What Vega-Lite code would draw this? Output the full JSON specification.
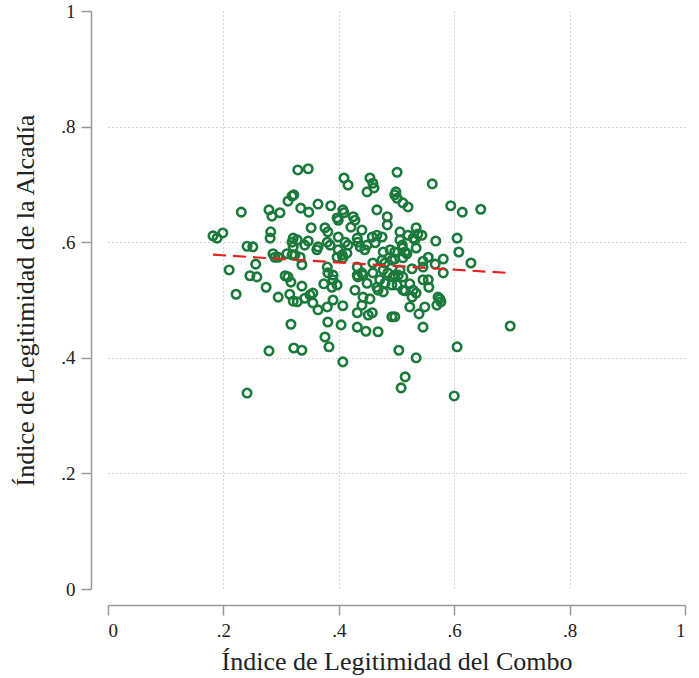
{
  "$schema": "https://vega.github.io/schema/vega-lite/v6.json",
  "width": 577,
  "height": 578,
  "autosize": {"type": "none"},
  "padding": {"left": 108, "top": 11, "right": 14, "bottom": 89},
  "background": "white",
  "config": {
    "view": {"stroke": null},
    "font": "Liberation Serif",
    "axis": {
      "labelFont": "Liberation Serif",
      "titleFont": "Liberation Serif",
      "labelFontSize": 19,
      "titleFontSize": 26,
      "titleFontWeight": "normal",
      "labelColor": "#222222",
      "titleColor": "#222222",
      "domainColor": "#999999",
      "domainWidth": 1.5,
      "tickColor": "#999999",
      "tickWidth": 1.5,
      "tickSize": 10,
      "gridColor": "#aaaaaa",
      "gridDash": [1, 3],
      "gridWidth": 1
    }
  },
  "data": {
    "values": [
      {"x":0.329,"y":0.725},{"x":0.322,"y":0.682},{"x":0.319,"y":0.680},{"x":0.312,"y":0.671},{"x":0.334,"y":0.659},
      {"x":0.231,"y":0.652},{"x":0.279,"y":0.656},{"x":0.284,"y":0.645},{"x":0.298,"y":0.651},{"x":0.182,"y":0.611},
      {"x":0.189,"y":0.607},{"x":0.199,"y":0.616},{"x":0.282,"y":0.618},{"x":0.281,"y":0.607},{"x":0.321,"y":0.607},
      {"x":0.319,"y":0.600},{"x":0.241,"y":0.593},{"x":0.251,"y":0.592},{"x":0.321,"y":0.592},{"x":0.341,"y":0.595},
      {"x":0.286,"y":0.580},{"x":0.289,"y":0.574},{"x":0.295,"y":0.574},{"x":0.310,"y":0.580},{"x":0.319,"y":0.578},
      {"x":0.333,"y":0.574},{"x":0.210,"y":0.552},{"x":0.256,"y":0.562},{"x":0.246,"y":0.542},{"x":0.258,"y":0.540},
      {"x":0.307,"y":0.542},{"x":0.312,"y":0.540},{"x":0.336,"y":0.561},{"x":0.347,"y":0.727},{"x":0.409,"y":0.711},
      {"x":0.416,"y":0.699},{"x":0.454,"y":0.711},{"x":0.459,"y":0.702},{"x":0.461,"y":0.694},{"x":0.449,"y":0.687},
      {"x":0.501,"y":0.721},{"x":0.499,"y":0.687},{"x":0.497,"y":0.682},{"x":0.501,"y":0.676},{"x":0.364,"y":0.666},
      {"x":0.386,"y":0.663},{"x":0.407,"y":0.656},{"x":0.409,"y":0.651},{"x":0.397,"y":0.642},{"x":0.399,"y":0.638},
      {"x":0.425,"y":0.644},{"x":0.428,"y":0.638},{"x":0.421,"y":0.626},{"x":0.466,"y":0.656},{"x":0.484,"y":0.644},
      {"x":0.484,"y":0.630},{"x":0.352,"y":0.625},{"x":0.376,"y":0.625},{"x":0.381,"y":0.618},{"x":0.399,"y":0.609},
      {"x":0.440,"y":0.621},{"x":0.458,"y":0.609},{"x":0.466,"y":0.612},{"x":0.475,"y":0.609},{"x":0.506,"y":0.618},
      {"x":0.506,"y":0.604},{"x":0.328,"y":0.604},{"x":0.347,"y":0.602},{"x":0.364,"y":0.592},{"x":0.362,"y":0.587},
      {"x":0.380,"y":0.600},{"x":0.385,"y":0.595},{"x":0.411,"y":0.600},{"x":0.416,"y":0.595},{"x":0.432,"y":0.607},
      {"x":0.433,"y":0.600},{"x":0.437,"y":0.592},{"x":0.449,"y":0.595},{"x":0.445,"y":0.587},{"x":0.463,"y":0.599},
      {"x":0.477,"y":0.583},{"x":0.489,"y":0.587},{"x":0.497,"y":0.583},{"x":0.510,"y":0.590},{"x":0.399,"y":0.587},
      {"x":0.406,"y":0.578},{"x":0.414,"y":0.581},{"x":0.397,"y":0.574},{"x":0.407,"y":0.573},{"x":0.324,"y":0.578},
      {"x":0.380,"y":0.557},{"x":0.381,"y":0.547},{"x":0.390,"y":0.543},{"x":0.432,"y":0.557},{"x":0.442,"y":0.543},
      {"x":0.475,"y":0.569},{"x":0.480,"y":0.564},{"x":0.492,"y":0.569},{"x":0.477,"y":0.552},{"x":0.485,"y":0.547},
      {"x":0.497,"y":0.543},{"x":0.506,"y":0.552},{"x":0.459,"y":0.564},{"x":0.348,"y":0.652},{"x":0.562,"y":0.701},
      {"x":0.511,"y":0.668},{"x":0.520,"y":0.661},{"x":0.594,"y":0.663},{"x":0.614,"y":0.652},{"x":0.646,"y":0.657},
      {"x":0.520,"y":0.612},{"x":0.534,"y":0.625},{"x":0.537,"y":0.614},{"x":0.544,"y":0.612},{"x":0.529,"y":0.607},
      {"x":0.532,"y":0.604},{"x":0.510,"y":0.595},{"x":0.515,"y":0.583},{"x":0.518,"y":0.580},{"x":0.511,"y":0.573},
      {"x":0.568,"y":0.602},{"x":0.605,"y":0.607},{"x":0.534,"y":0.590},{"x":0.608,"y":0.583},{"x":0.497,"y":0.571},
      {"x":0.546,"y":0.567},{"x":0.555,"y":0.574},{"x":0.567,"y":0.562},{"x":0.581,"y":0.571},{"x":0.629,"y":0.564},
      {"x":0.527,"y":0.554},{"x":0.546,"y":0.557},{"x":0.581,"y":0.547},{"x":0.274,"y":0.522},{"x":0.222,"y":0.510},
      {"x":0.295,"y":0.505},{"x":0.317,"y":0.531},{"x":0.336,"y":0.524},{"x":0.315,"y":0.510},{"x":0.321,"y":0.498},
      {"x":0.341,"y":0.503},{"x":0.317,"y":0.458},{"x":0.279,"y":0.412},{"x":0.322,"y":0.417},{"x":0.336,"y":0.413},
      {"x":0.241,"y":0.339},{"x":0.374,"y":0.528},{"x":0.390,"y":0.535},{"x":0.397,"y":0.526},{"x":0.388,"y":0.522},
      {"x":0.432,"y":0.543},{"x":0.433,"y":0.540},{"x":0.440,"y":0.547},{"x":0.459,"y":0.547},{"x":0.449,"y":0.529},
      {"x":0.466,"y":0.522},{"x":0.468,"y":0.517},{"x":0.477,"y":0.514},{"x":0.471,"y":0.535},{"x":0.480,"y":0.529},
      {"x":0.492,"y":0.526},{"x":0.494,"y":0.540},{"x":0.503,"y":0.543},{"x":0.511,"y":0.540},{"x":0.511,"y":0.517},
      {"x":0.428,"y":0.517},{"x":0.442,"y":0.505},{"x":0.454,"y":0.502},{"x":0.350,"y":0.509},{"x":0.355,"y":0.512},
      {"x":0.355,"y":0.495},{"x":0.364,"y":0.483},{"x":0.380,"y":0.488},{"x":0.390,"y":0.500},{"x":0.328,"y":0.497},
      {"x":0.407,"y":0.490},{"x":0.440,"y":0.491},{"x":0.432,"y":0.478},{"x":0.451,"y":0.474},{"x":0.458,"y":0.478},
      {"x":0.492,"y":0.471},{"x":0.381,"y":0.462},{"x":0.404,"y":0.457},{"x":0.432,"y":0.453},{"x":0.447,"y":0.446},
      {"x":0.468,"y":0.445},{"x":0.376,"y":0.436},{"x":0.383,"y":0.419},{"x":0.407,"y":0.393},{"x":0.504,"y":0.413},
      {"x":0.515,"y":0.367},{"x":0.508,"y":0.348},{"x":0.501,"y":0.526},{"x":0.523,"y":0.528},{"x":0.515,"y":0.516},
      {"x":0.529,"y":0.517},{"x":0.534,"y":0.512},{"x":0.527,"y":0.505},{"x":0.546,"y":0.535},{"x":0.555,"y":0.535},
      {"x":0.556,"y":0.522},{"x":0.572,"y":0.505},{"x":0.575,"y":0.502},{"x":0.577,"y":0.497},{"x":0.570,"y":0.491},
      {"x":0.523,"y":0.488},{"x":0.549,"y":0.488},{"x":0.539,"y":0.476},{"x":0.497,"y":0.471},{"x":0.546,"y":0.453},
      {"x":0.605,"y":0.419},{"x":0.534,"y":0.400},{"x":0.600,"y":0.334},{"x":0.697,"y":0.455}
    ]
  },
  "layer": [
    {
      "mark": {"type": "point", "shape": "circle", "filled": false, "color": "#1b7a3b", "size": 72, "strokeWidth": 2.6, "opacity": 1},
      "encoding": {
        "x": {
          "field": "x", "type": "quantitative",
          "scale": {"domain": [0, 1], "nice": false, "zero": false},
          "axis": {
            "title": "Índice de Legitimidad del Combo",
            "values": [0, 0.2, 0.4, 0.6, 0.8, 1],
            "offset": 16,
            "labelPadding": 6,
            "titlePadding": 8,
            "labelExpr": "datum.value == 0 ? '0' : datum.value == 1 ? '1' : replace(format(datum.value, '.1f'), '0.', '.')",
            "gridOpacity": {"condition": {"test": "datum.value <= 0 || datum.value >= 1", "value": 0}, "value": 1}
          }
        },
        "y": {
          "field": "y", "type": "quantitative",
          "scale": {"domain": [0, 1], "nice": false, "zero": false},
          "axis": {
            "title": "Índice de Legitimidad de la Alcadía",
            "values": [0, 0.2, 0.4, 0.6, 0.8, 1],
            "offset": 17,
            "labelPadding": 6,
            "titlePadding": 22,
            "labelExpr": "datum.value == 0 ? '0' : datum.value == 1 ? '1' : replace(format(datum.value, '.1f'), '0.', '.')",
            "gridOpacity": {"condition": {"test": "datum.value <= 0 || datum.value >= 1", "value": 0}, "value": 1}
          }
        }
      }
    },
    {
      "mark": {"type": "line", "color": "#e8211f", "strokeDash": [13, 7], "strokeWidth": 2.2},
      "transform": [{"regression": "y", "on": "x"}],
      "encoding": {
        "x": {"field": "x", "type": "quantitative"},
        "y": {"field": "y", "type": "quantitative"}
      }
    }
  ]
}
